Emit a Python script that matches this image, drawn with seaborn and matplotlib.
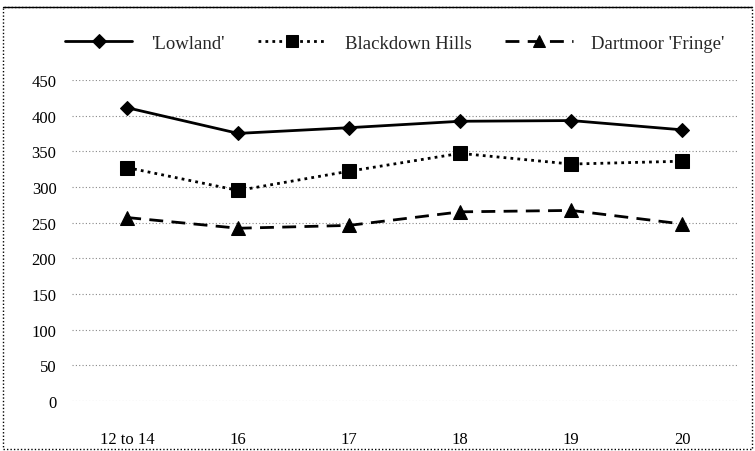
import matplotlib
matplotlib.use("Agg")
import matplotlib.pyplot as plt
import seaborn as sns
import pandas as pd
from matplotlib.patches import Rectangle
from matplotlib.lines import Line2D

ages = ["12 to 14", "16", "17", "18", "19", "20"]
lowland = [411, 375, 383, 392, 393, 380]
blackdown = [327, 295, 322, 347, 332, 336]
dartmoor = [257, 242, 246, 265, 267, 248]
series_names = ["'Lowland'", "Blackdown Hills", "Dartmoor 'Fringe'"]
yticks = [0, 50, 100, 150, 200, 250, 300, 350, 400, 450]

rows = []
for name, vals in zip(series_names, [lowland, blackdown, dartmoor]):
    for a, v in zip(ages, vals):
        rows.append({"age": a, "value": v, "series": name})
df = pd.DataFrame(rows)

sns.set_theme(style="white")
plt.rcParams["font.family"] = ["Liberation Serif", "DejaVu Serif"]

fig = plt.figure(figsize=(7.55, 4.52), dpi=100)
ax = fig.add_axes([0.095, 0.111, 0.882, 0.71])

sns.lineplot(
    data=df, x="age", y="value", hue="series", style="series",
    palette=["black", "black", "black"],
    markers={series_names[0]: "D", series_names[1]: "s", series_names[2]: "^"},
    dashes={series_names[0]: "", series_names[1]: (1, 1.5), series_names[2]: (5, 3)},
    linewidth=2, markersize=9, markeredgecolor="black", ax=ax, sort=False,
)
for line, ms in zip(ax.lines, [7, 10, 10]):
    line.set_markersize(ms)

ax.set_xlim(-0.5, 5.5)
ax.set_ylim(0, 450)
ax.set_yticks(yticks)
ax.set_yticklabels([str(t) for t in yticks])
ax.yaxis.grid(True, color="#888888", linestyle=(0, (1, 2)), linewidth=0.8)
ax.set_axisbelow(True)
for s in ax.spines.values():
    s.set_visible(False)
ax.tick_params(axis="both", length=0, labelsize=12, colors="black")
ax.tick_params(axis="y", pad=11)
ax.tick_params(axis="x", pad=22)
ax.set_xlabel("")
ax.set_ylabel("")

handles, labels = ax.get_legend_handles_labels()
for h, ms in zip(handles, [7, 8, 9]):
    h.set_markersize(ms)
ax.legend(handles, labels, loc="center", bbox_to_anchor=(0.485, 1.115), ncol=3,
          frameon=False, fontsize=13.5, handlelength=3.6, columnspacing=1.8,
          handletextpad=1.0)

fig.patches.append(Rectangle((0.004, 0.004), 0.992, 0.978, transform=fig.transFigure,
                             fill=False, edgecolor="black", linewidth=1,
                             linestyle=(0, (1, 1.5))))
fig.lines.append(Line2D([0.004, 0.996], [0.982, 0.982], transform=fig.transFigure,
                        color="black", linewidth=1))

fig.savefig("out.png", dpi=100)
